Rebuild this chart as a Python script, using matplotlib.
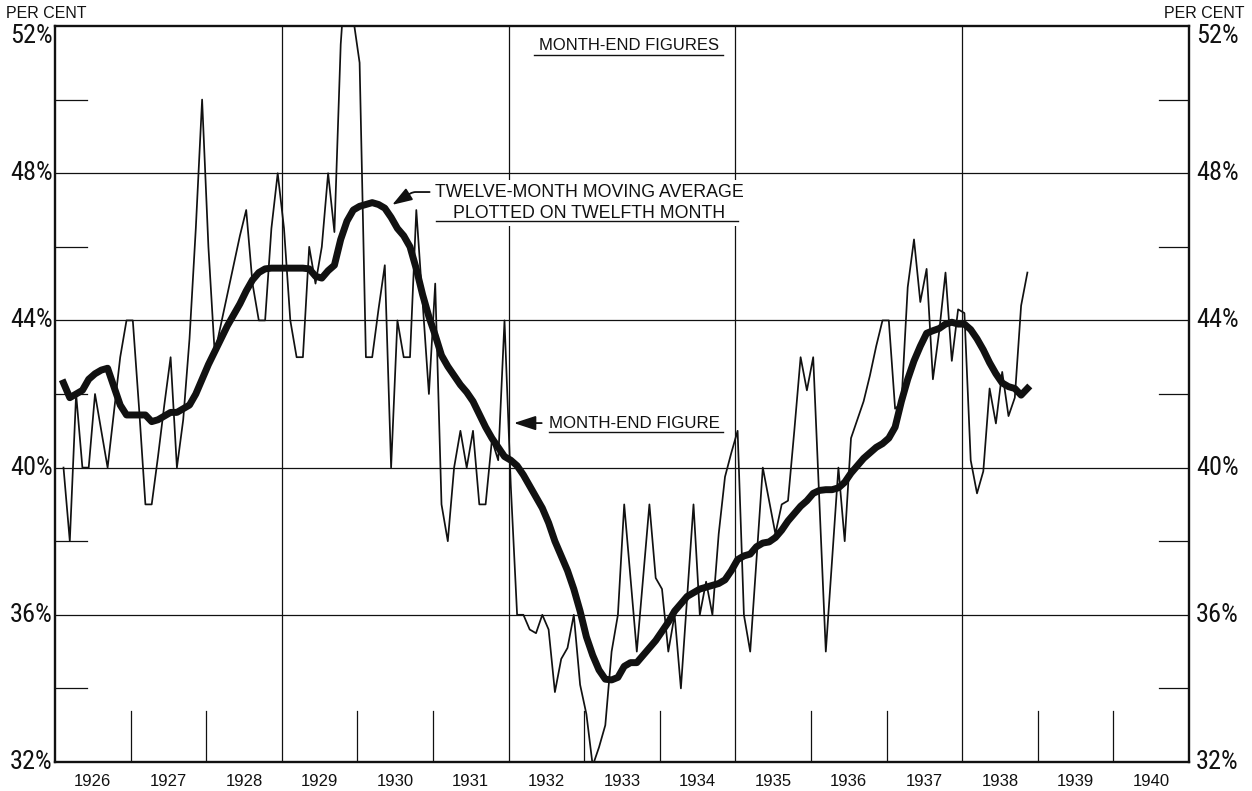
import numpy as np
import matplotlib
matplotlib.use('Agg')
import matplotlib.pyplot as plt
from matplotlib import font_manager

# month numbers counted from end of Dec 1925 (1 = Jan 1926 ... 154 = Oct 1938)
months = np.arange(1, 155)

# month-end figures, per cent
month_end = [
    40, 38, 42, 40, 40, 42, 41, 40, 41.5, 43,
    44, 44, 41.6, 39, 39, 40.3, 41.7, 43, 40, 41.3,
    43.5, 46.5, 50, 46, 43.1, 43.9, 44.7, 45.5, 46.3, 47,
    45, 44, 44, 46.5, 48, 46.5, 44, 43, 43, 46,
    45, 46, 48, 46.4, 51.5, 54, 52.2, 51, 43, 43,
    44.3, 45.5, 40, 44, 43, 43, 47, 44.5, 42, 45,
    39, 38, 40, 41, 40, 41, 39, 39, 40.75, 40.2,
    44, 39.5, 36, 36, 35.6, 35.5, 36, 35.6, 33.9, 34.8,
    35.1, 36, 34.1, 33.3, 31.9, 32.4, 33, 35, 36, 39,
    37, 35, 37, 39, 37, 36.7, 35, 36, 34, 36.5,
    39, 36, 36.9, 36, 38.2, 39.75, 40.4, 41, 36, 35,
    37.5, 40, 39.1, 38.2, 39, 39.1, 41, 43, 42.1, 43,
    39, 35, 37.5, 40, 38, 40.8, 41.3, 41.8, 42.5, 43.3,
    44, 44, 41.6, 41.75, 44.9, 46.2, 44.5, 45.4, 42.4, 43.7,
    45.3, 42.9, 44.3, 44.2, 40.2, 39.3, 39.9, 42.15, 41.2, 42.6,
    41.4, 41.9, 44.4, 45.3,
]

# twelve-month moving average, plotted on twelfth month
moving_avg = [
    42.3, 41.9, 42.0, 42.1, 42.4, 42.55, 42.65, 42.7, 42.2, 41.7,
    41.43, 41.43, 41.43, 41.43, 41.25, 41.3, 41.4, 41.5, 41.5, 41.6,
    41.7, 42.0, 42.4, 42.8, 43.15, 43.5, 43.85, 44.15, 44.45, 44.8,
    45.1, 45.3, 45.4, 45.42, 45.42, 45.42, 45.42, 45.42, 45.42, 45.4,
    45.2, 45.15, 45.35, 45.5, 46.2, 46.7, 47.0, 47.1, 47.15, 47.2,
    47.15, 47.05, 46.8, 46.5, 46.3, 46.0, 45.4, 44.7, 44.1, 43.6,
    43.05, 42.75, 42.5, 42.25, 42.05, 41.8, 41.45, 41.1, 40.8, 40.55,
    40.3, 40.2, 40.05, 39.8, 39.5, 39.2, 38.9, 38.5, 38.0, 37.6,
    37.2, 36.7, 36.1, 35.4, 34.9, 34.5, 34.25, 34.23, 34.3, 34.6,
    34.7, 34.7, 34.9, 35.1, 35.3, 35.55, 35.8, 36.1, 36.3, 36.5,
    36.6, 36.7, 36.75, 36.8, 36.85, 36.95, 37.2, 37.5, 37.6, 37.65,
    37.85, 37.95, 37.98, 38.1, 38.3, 38.55, 38.75, 38.95, 39.1, 39.3,
    39.38, 39.4, 39.4, 39.45, 39.6, 39.85, 40.05, 40.25, 40.4, 40.55,
    40.65, 40.8, 41.1, 41.8, 42.4, 42.9, 43.3, 43.65, 43.72, 43.78,
    43.9, 43.95, 43.9, 43.9, 43.75, 43.5, 43.2, 42.85, 42.55, 42.3,
    42.2, 42.15, 41.97, 42.15,
]

years = list(range(1926, 1941))
pct_labels = [32, 36, 40, 44, 48, 52]
pct_minor = [34, 38, 42, 46, 50]
grid_years = [1929, 1932, 1935, 1938]
grid_pct = [36, 40, 44, 48]

# fonts - a narrow face for the big per cent figures if one is there
names = {f.name for f in font_manager.fontManager.ttflist}
plt.rcParams['font.family'] = ['Liberation Sans', 'DejaVu Sans']
narrow = 'Liberation Sans'
big = 16.5
for cand in ['Liberation Sans Narrow', 'Roboto Condensed', 'DejaVu Sans Condensed']:
    if cand in names:
        narrow = cand
        big = 19
        break

ink = '#111111'
# the original draws each month-end point a little past the month line
x = 1926 + (months + 0.35) / 12.0

fig = plt.figure(figsize=(12.52, 7.91), dpi=100)
ax = fig.add_axes([55 / 1252, 29 / 791, 1134 / 1252, 736 / 791])
ax.set_xlim(1926, 1941)
ax.set_ylim(32, 52)
ax.set_xticks([])
ax.set_yticks([])
for s in ax.spines.values():
    s.set_linewidth(1.7)
    s.set_color(ink)

# grid lines
for g in grid_pct:
    ax.axhline(g, color=ink, lw=0.9, zorder=1)
for g in grid_years:
    ax.axvline(g, color=ink, lw=0.9, zorder=1)

# short year ticks on bottom
for yr in years[1:]:
    if yr not in grid_years:
        ax.plot([yr, yr], [32, 33.38], color=ink, lw=0.9, zorder=1)

# short per cent ticks on both sides
for p in pct_minor:
    ax.plot([1926, 1926.42], [p, p], color=ink, lw=0.9, zorder=1)
    ax.plot([1940.6, 1941], [p, p], color=ink, lw=0.9, zorder=1)

# data
ax.plot(x, month_end, color=ink, lw=1.25, zorder=3)
ax.plot(x, moving_avg, color=ink, lw=5, solid_joinstyle='round', zorder=4)

# labels of the scales
ytr = ax.get_yaxis_transform()
for p in pct_labels:
    va = 'top' if p == 52 else 'center'
    yy = 52.05 if p == 52 else p
    ax.text(-0.002, yy, f'{p}%', transform=ytr, ha='right', va=va,
            fontsize=big, family=narrow, color=ink, clip_on=False)
    ax.text(1.006, yy, f'{p}%', transform=ytr, ha='left', va=va,
            fontsize=big, family=narrow, color=ink, clip_on=False)

xtr = ax.get_xaxis_transform()
for yr in years:
    ax.text(yr + 0.5, -0.026, str(yr), transform=xtr, ha='center', va='center',
            fontsize=12, color=ink, clip_on=False)

fig.text(6 / 1252, 1 - 14 / 791, 'PER CENT', ha='left', va='center', fontsize=11.5, color=ink)
fig.text(1245 / 1252, 1 - 14 / 791, 'PER CENT', ha='right', va='center', fontsize=11.5, color=ink)

# notes inside the chart
ax.text(1933.59, 51.48, 'MONTH-END FIGURES', ha='center', va='center',
        fontsize=12, color=ink, zorder=5)
ax.plot([1932.33, 1934.83], [51.2, 51.2], color=ink, lw=1.0, zorder=5)

ax.annotate('TWELVE-MONTH MOVING AVERAGE\nPLOTTED ON TWELFTH MONTH',
            xy=(1930.46, 47.14), xytext=(1933.07, 47.2),
            ha='center', va='center', multialignment='center', linespacing=1.3,
            fontsize=12.8, color=ink, zorder=6,
            bbox=dict(facecolor='white', edgecolor='none', pad=3),
            arrowprops=dict(arrowstyle='-|>,head_length=0.95,head_width=0.32',
                            connectionstyle='angle,angleA=0,angleB=32,rad=3',
                            relpos=(0.0, 0.78), color=ink, lw=1.3, shrinkA=1, shrinkB=0))
ax.plot([1931.04, 1935.03], [46.7, 46.7], color=ink, lw=1.0, zorder=7)

ax.annotate('MONTH-END FIGURE', xy=(1932.07, 41.21), xytext=(1932.53, 41.21),
            ha='left', va='center', fontsize=12.2, color=ink, zorder=6,
            arrowprops=dict(arrowstyle='-|>,head_length=1.1,head_width=0.36',
                            color=ink, lw=1.3, shrinkA=3, shrinkB=0))
ax.plot([1932.53, 1934.83], [40.97, 40.97], color=ink, lw=1.0, zorder=5)

fig.savefig('out.png', dpi=100, facecolor='white')
